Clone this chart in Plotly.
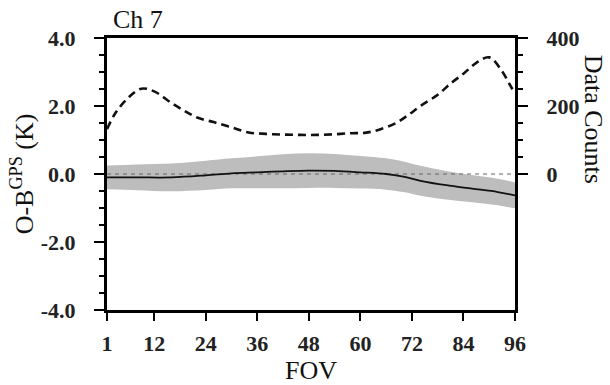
import plotly.graph_objects as go

# ---- data ----
fov_stats = [1, 8, 16, 24, 30, 36, 42, 48, 54, 60, 66, 70, 74, 80, 86, 92, 96]
mean_omb = [-0.10, -0.10, -0.10, -0.04, 0.02, 0.05, 0.08, 0.10, 0.09, 0.05, 0.0, -0.08, -0.20, -0.33, -0.43, -0.53, -0.63]
std_omb = [0.35, 0.38, 0.41, 0.43, 0.44, 0.47, 0.50, 0.51, 0.50, 0.48, 0.46, 0.45, 0.44, 0.42, 0.40, 0.39, 0.38]

fov_counts = [1, 3, 6, 9, 12, 16, 19, 22, 26, 30, 34, 38, 42, 46, 50, 54, 58, 61, 64, 68, 71, 74, 78, 81, 84, 87, 90, 93, 95, 96]
counts = [132, 180, 225, 251, 243, 209, 186, 166, 152, 137, 122, 118, 116, 115, 115, 117, 120, 121, 129, 148, 172, 200, 233, 266, 295, 327, 343, 302, 258, 238]

x_ticks = [1, 12, 24, 36, 48, 60, 72, 84, 96]
y_ticks = [-4, -2, 0, 2, 4]
y2_ticks = [0, 200, 400]

upper = [m + s for m, s in zip(mean_omb, std_omb)]
lower = [m - s for m, s in zip(mean_omb, std_omb)]

SERIF = "Liberation Serif"

fig = go.Figure()
fig.add_trace(go.Scatter(x=fov_stats, y=upper, mode="lines", line=dict(width=0, shape="spline"),
                         showlegend=False, hoverinfo="skip"))
fig.add_trace(go.Scatter(x=fov_stats, y=lower, mode="lines", line=dict(width=0, shape="spline"),
                         fill="tonexty", fillcolor="#bdbdbd", showlegend=False, hoverinfo="skip"))
fig.add_trace(go.Scatter(x=[x_ticks[0], x_ticks[-1]], y=[0, 0], mode="lines",
                         line=dict(color="#666666", width=1.2, dash="4px,4px"), showlegend=False))
fig.add_trace(go.Scatter(x=fov_stats, y=mean_omb, mode="lines",
                         line=dict(color="#111111", width=1.8, shape="spline"), showlegend=False))
fig.add_trace(go.Scatter(x=fov_counts, y=counts, mode="lines", yaxis="y2",
                         line=dict(color="#111111", width=2.6, dash="8px,5px", shape="spline"),
                         showlegend=False))

tickfont = dict(family=SERIF, size=22, weight="bold", color="#222222")

fig.update_layout(
    width=610, height=385,
    margin=dict(l=107, r=95, t=38, b=75, autoexpand=False),
    paper_bgcolor="white", plot_bgcolor="white",
    font=dict(family=SERIF, color="#111111"),
    xaxis=dict(range=[1, 96], tickvals=x_ticks, ticktext=[str(v) for v in x_ticks],
               showgrid=False, zeroline=False, showline=True, linewidth=3, linecolor="black",
               mirror=True, ticks="outside", ticklen=8, tickwidth=2, tickcolor="black",
               tickfont=tickfont, ticklabelstandoff=4, automargin=False,
               title=dict(text="FOV", font=dict(family=SERIF, size=26), standoff=2)),
    yaxis=dict(range=[-4, 4], tickvals=y_ticks, ticktext=["%.1f" % v for v in y_ticks],
               showgrid=False, zeroline=False, showline=True, linewidth=3, linecolor="black",
               ticks="outside", ticklen=10, tickwidth=2, tickcolor="black", automargin=False,
               minor=dict(dtick=0.5, ticks="outside", ticklen=5, tickwidth=1.5, tickcolor="black", showgrid=False),
               tickfont=tickfont, ticklabelstandoff=14,
               title=dict(text="O-B<sup>GPS</sup> (K)", font=dict(family=SERIF, size=26), standoff=0)),
    yaxis2=dict(range=[-400, 400], overlaying="y", side="right", tickvals=y2_ticks,
                ticktext=[str(v) for v in y2_ticks], automargin=False,
                showgrid=False, zeroline=False, showline=True, linewidth=3, linecolor="black",
                ticks="outside", ticklen=10, tickwidth=2, tickcolor="black",
                minor=dict(tickvals=[50, 100, 150, 250, 300, 350], ticks="outside", ticklen=5,
                           tickwidth=1.5, tickcolor="black", showgrid=False),
                tickfont=tickfont, ticklabelstandoff=14),
    annotations=[
        dict(text="Ch 7", x=0, y=1, xref="paper", yref="paper", xanchor="left",
             yanchor="bottom", xshift=4, yshift=2, showarrow=False,
             font=dict(family=SERIF, size=26, color="#111111")),
        dict(text="Data Counts", x=1.191, y=0.70, xref="paper", yref="paper", xanchor="center",
             yanchor="middle", textangle=90, showarrow=False,
             font=dict(family=SERIF, size=26, color="#111111")),
    ],
)

fig.write_html("out.html")
